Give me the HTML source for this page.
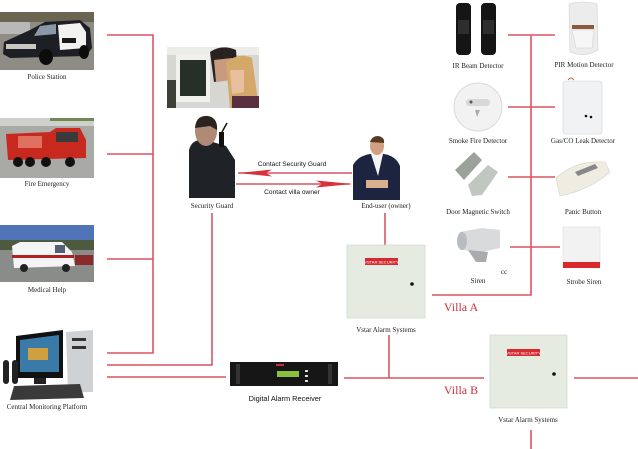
<!DOCTYPE html>
<html><head><meta charset="utf-8"><style>
html,body{margin:0;padding:0;background:#fff;}
svg{display:block;}
.lb{font-family:"Liberation Serif",serif;font-size:7px;fill:#222;text-anchor:middle;}
.sl{font-family:"Liberation Sans",sans-serif;fill:#111;text-anchor:middle;}
.ln{stroke:#dc5560;stroke-width:1.6;fill:none;}
.vl{font-family:"Liberation Serif",serif;font-size:12px;fill:#c8323c;text-anchor:middle;}
</style></head><body>
<svg width="638" height="449" viewBox="0 0 638 449" xmlns="http://www.w3.org/2000/svg">
<rect width="638" height="449" fill="#fff"/>

<!-- connector lines -->
<g class="ln">
<path d="M107 35H153V353H107"/>
<path d="M107 154H153"/>
<path d="M107 259H153"/>
<path d="M212 213V365H107"/>
<path d="M107 377H226"/>
<path d="M344 378H484"/>
<path d="M389 335V378"/>
<path d="M385 213V245"/>
<path d="M432 295H531V35"/>
<path d="M508 35H555"/>
<path d="M508 107H555"/>
<path d="M508 177H555"/>
<path d="M510 247H560"/>
<path d="M574 378H638"/>
<path d="M531 430V449"/>
<path d="M238 173H352"/>
<path d="M236 184H350"/>
</g>
<polygon points="238,173 272,169.5 266,173 272,176.5" fill="#d8303c"/>
<polygon points="352,184 316,180.5 322,184 316,187.5" fill="#d8303c"/>
<text class="sl" x="292" y="166" font-size="6.6">Contact Security Guard</text>
<text class="sl" x="292" y="194" font-size="6.6">Contact villa owner</text>

<!-- Police -->
<rect x="0" y="12" width="94" height="58" fill="#8e8c84"/>
<rect x="0" y="12" width="94" height="10" fill="#6b6450"/>
<rect x="0" y="22" width="30" height="12" fill="#b8b8b8"/>
<path d="M4 42 L30 30 L45 22 L80 20 L90 28 L92 48 L86 56 L10 58 L3 54Z" fill="#1d1f24"/>
<path d="M58 25 L80 23 L86 32 L86 48 L60 50Z" fill="#f2f2f0"/>
<path d="M40 26 L56 24 L56 34 L34 36Z" fill="#8a98a8"/>
<rect x="6" y="44" width="30" height="5" fill="#c8c8c0"/>
<ellipse cx="46" cy="57" rx="7" ry="8" fill="#0c0c0c"/>
<ellipse cx="84" cy="52" rx="5" ry="7" fill="#0c0c0c"/>
<rect x="62" y="38" width="14" height="5" fill="#1a1a1a"/>
<text class="lb" x="47" y="79">Police Station</text>

<!-- Fire -->
<rect x="0" y="118" width="94" height="60" fill="#a9a9a6"/>
<rect x="0" y="118" width="94" height="8" fill="#cfd0cc"/>
<rect x="50" y="118" width="44" height="3" fill="#6f8a55"/>
<path d="M6 134 L50 132 L56 128 L80 128 L86 140 L86 158 L8 160Z" fill="#c7291f"/>
<rect x="18" y="136" width="24" height="12" fill="#e07060"/>
<rect x="56" y="132" width="22" height="10" fill="#3a3a3a"/>
<circle cx="18" cy="162" r="5" fill="#111"/><circle cx="30" cy="162" r="5" fill="#111"/>
<circle cx="46" cy="162" r="5" fill="#111"/><circle cx="70" cy="162" r="5" fill="#111"/>
<text class="lb" x="47" y="186">Fire Emergency</text>

<!-- Medical -->
<rect x="0" y="225" width="94" height="57" fill="#8a8c8a"/>
<rect x="0" y="225" width="94" height="22" fill="#4f74b8"/>
<rect x="0" y="240" width="94" height="10" fill="#4e5a40"/>
<path d="M12 246 L20 242 L62 242 L72 252 L75 266 L14 268Z" fill="#f4f4f4"/>
<rect x="12" y="255" width="62" height="3" fill="#b02020"/>
<rect x="55" y="245" width="10" height="8" fill="#506070"/>
<circle cx="24" cy="268" r="4" fill="#222"/><circle cx="66" cy="268" r="4" fill="#222"/>
<rect x="75" y="255" width="18" height="10" fill="#8a2a2a"/>
<text class="lb" x="47" y="292">Medical Help</text>

<!-- Central monitoring -->
<path d="M66 332 L93 330 L93 392 L68 392Z" fill="#cfd2d4"/>
<rect x="72" y="338" width="14" height="3" fill="#333"/><rect x="72" y="346" width="14" height="3" fill="#333"/>
<path d="M16 336 L63 330 L63 378 L16 378Z" fill="#111"/>
<path d="M20 340 L59 335 L59 372 L20 372Z" fill="#3a7aa8"/>
<rect x="28" y="348" width="20" height="12" fill="#d0a040"/>
<rect x="34" y="378" width="12" height="6" fill="#222"/>
<path d="M14 386 L80 384 L84 398 L10 400Z" fill="#3a3a3a"/>
<rect x="3" y="360" width="6" height="24" rx="3" fill="#222"/>
<rect x="12" y="360" width="6" height="24" rx="3" fill="#222"/>
<text class="lb" x="47" y="409">Central Monitoring Platform</text>

<!-- Call center -->
<rect x="167" y="47" width="92" height="61" fill="#d6d6d2"/>
<rect x="167" y="47" width="92" height="8" fill="#ecece8"/>
<rect x="176" y="54" width="34" height="48" fill="#f0f0ec"/>
<rect x="180" y="60" width="26" height="36" fill="#263026"/>
<path d="M210 52 Q222 44 236 50 L238 78 L214 82Z" fill="#2a2220"/>
<path d="M214 60 L232 58 L232 80 L216 82Z" fill="#c89a80"/>
<path d="M226 62 Q240 52 252 58 L259 108 L230 108Z" fill="#d4a868"/>
<path d="M230 70 L244 70 L244 92 L232 94Z" fill="#e8c0a0"/>
<rect x="232" y="96" width="27" height="12" fill="#5a3040"/>
<rect x="167" y="80" width="9" height="28" fill="#3e4038"/>

<!-- Security guard -->
<path d="M189 150 Q192 138 206 140 L226 146 L235 160 L235 198 L189 198Z" fill="#1f2226"/>
<ellipse cx="206" cy="131" rx="11" ry="15" fill="#b08a74"/>
<path d="M195 128 Q196 115 208 116 Q218 118 217 130 L210 126Z" fill="#2a2320"/>
<rect x="219" y="132" width="5" height="15" fill="#111"/>
<line x1="222" y1="132" x2="227" y2="123" stroke="#111" stroke-width="1.5"/>
<text class="lb" x="212" y="208">Security Guard</text>

<!-- End user -->
<path d="M353 165 Q358 156 370 154 L384 154 Q396 156 400 166 L400 200 L353 200Z" fill="#1c2440"/>
<path d="M371 154 L383 154 L378 176Z" fill="#f4f4f4"/>
<ellipse cx="377" cy="146" rx="7" ry="9" fill="#d0a080"/>
<path d="M370 142 Q372 136 378 136 Q385 137 384 143Z" fill="#5a3a22"/>
<rect x="366" y="180" width="22" height="8" fill="#d8b090"/>
<text class="lb" x="386" y="208">End-user (owner)</text>

<!-- IR beam -->
<rect x="456" y="3" width="15" height="52" rx="4" fill="#151515"/>
<rect x="481" y="3" width="15" height="52" rx="4" fill="#151515"/>
<rect x="458" y="20" width="11" height="14" fill="#2e2e2e"/>
<rect x="483" y="20" width="11" height="14" fill="#2e2e2e"/>
<text class="lb" x="478" y="68">IR Beam Detector</text>

<!-- PIR -->
<path d="M569 4 Q583 0 597 4 L598 50 Q584 58 570 52Z" fill="#ececec" stroke="#d0d0d0" stroke-width="0.6"/>
<rect x="572" y="25" width="22" height="4" fill="#8a5a40"/>
<path d="M572 30 L594 30 L592 48 L576 48Z" fill="#f6f6f6" stroke="#ccc" stroke-width="0.5"/>
<text class="lb" x="584" y="67">PIR Motion Detector</text>

<!-- Smoke -->
<circle cx="478" cy="107" r="24" fill="#f2f2f2" stroke="#dadada"/>
<rect x="466" y="99" width="24" height="7" rx="3" fill="#d8d8d8"/>
<circle cx="471" cy="102" r="1.5" fill="#555"/>
<path d="M475 110 L480 110 L477 117Z" fill="#aaa"/>
<text class="lb" x="478" y="143">Smoke Fire Detector</text>

<!-- Gas -->
<rect x="563" y="81" width="39" height="53" rx="3" fill="#f0f2f4" stroke="#d0d4d8" stroke-width="0.6"/>
<circle cx="586" cy="116" r="1.3" fill="#111"/><circle cx="591" cy="117" r="1.3" fill="#111"/>
<path d="M568 80 Q571 76 574 80" stroke="#c0704a" fill="none"/>
<text class="lb" x="583" y="143">Gas/CO Leak Detector</text>

<!-- Door magnetic -->
<path d="M455 170 L474 152 L482 160 L464 180Z" fill="#9aa29a"/>
<path d="M468 185 L488 165 L498 172 L482 195 L472 196Z" fill="#c0c6c0"/>
<text class="lb" x="478" y="214">Door Magnetic Switch</text>

<!-- Panic -->
<path d="M556 178 Q575 160 605 162 L610 172 Q590 190 560 196Z" fill="#efece2" stroke="#d8d4c8" stroke-width="0.6"/>
<path d="M575 172 L595 164 L598 168 L578 176Z" fill="#888"/>
<text class="lb" x="583" y="214">Panic Button</text>

<!-- Siren -->
<path d="M460 232 L482 228 L500 230 L500 248 L482 252 L462 250Z" fill="#d8dadc"/>
<ellipse cx="462" cy="241" rx="5" ry="9" fill="#b8bcc0"/>
<path d="M468 250 L476 262 L486 262 L488 252Z" fill="#a8acae"/>
<text class="lb" x="504" y="274" font-size="5">cc</text>
<text class="lb" x="478" y="283">Siren</text>

<!-- Strobe -->
<rect x="563" y="227" width="37" height="40" fill="#f2f2f2" stroke="#dcdcdc" stroke-width="0.6"/>
<rect x="563" y="262" width="37" height="6" fill="#d9282a"/>
<text class="lb" x="584" y="284">Strobe Siren</text>

<!-- Alarm box A -->
<rect x="347" y="245" width="78" height="73" fill="#e6ebe2" stroke="#d4dad0" stroke-width="0.8"/>
<rect x="365" y="258" width="33" height="7" fill="#d62a30"/>
<text x="381.5" y="263.5" font-family="Liberation Sans,sans-serif" font-size="4" fill="#fff" text-anchor="middle">VSTAR SECURITY</text>
<circle cx="412" cy="284" r="1.8" fill="#111"/>
<text class="lb" x="386" y="332">Vstar Alarm Systems</text>
<text class="vl" x="461" y="311">Villa A</text>

<!-- DAR -->
<rect x="230" y="362" width="108" height="24" fill="#161616"/>
<rect x="236" y="364" width="4" height="20" fill="#333"/>
<rect x="328" y="364" width="4" height="20" fill="#333"/>
<rect x="277" y="371" width="22" height="6" fill="#8ac040"/>
<rect x="276" y="364" width="8" height="2" fill="#c03030"/>
<rect x="305" y="370" width="3" height="2" fill="#ddd"/><rect x="305" y="375" width="3" height="2" fill="#ddd"/><rect x="305" y="380" width="3" height="2" fill="#ddd"/>
<text class="sl" x="285" y="401" font-size="7.4">Digital Alarm Receiver</text>

<!-- Alarm box B -->
<rect x="490" y="335" width="77" height="73" fill="#e6ebe2" stroke="#d4dad0" stroke-width="0.8"/>
<rect x="507" y="349" width="33" height="7" fill="#d62a30"/>
<text x="523.5" y="354.5" font-family="Liberation Sans,sans-serif" font-size="4" fill="#fff" text-anchor="middle">VSTAR SECURITY</text>
<circle cx="554" cy="374" r="1.8" fill="#111"/>
<text class="lb" x="528" y="422">Vstar Alarm Systems</text>
<text class="vl" x="461" y="394">Villa B</text>
</svg>
</body></html>
